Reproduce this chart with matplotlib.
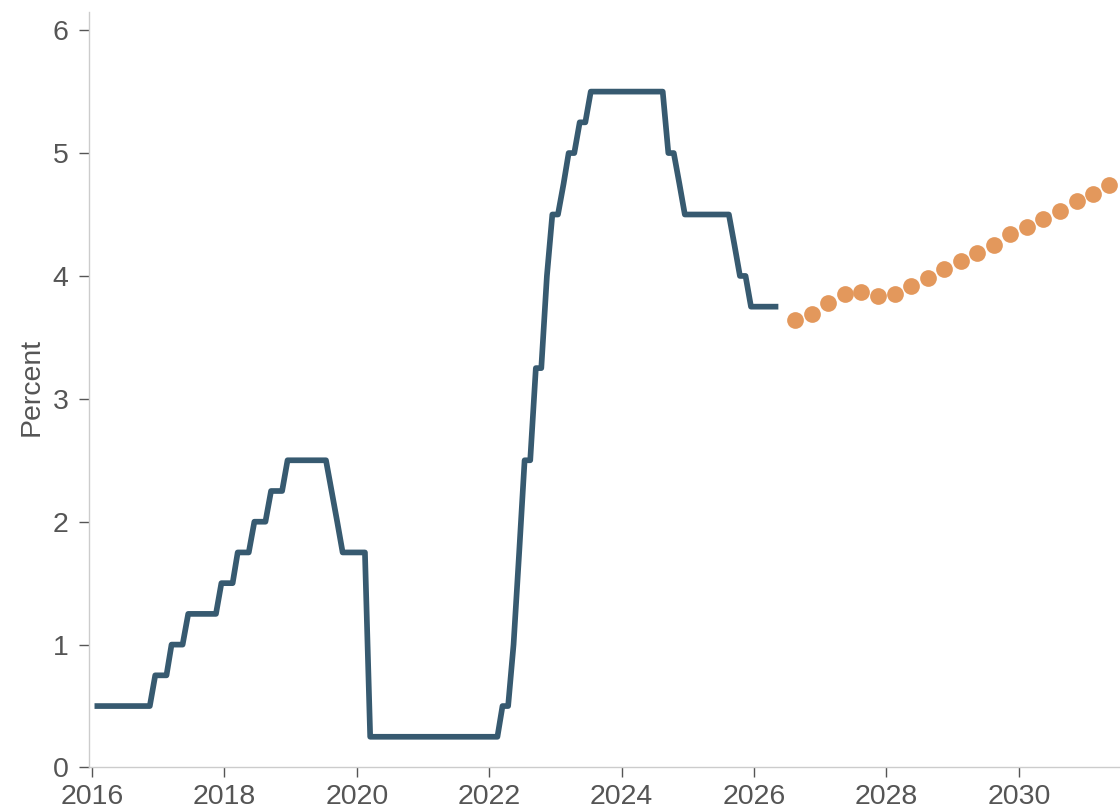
import matplotlib
matplotlib.use("Agg")
import matplotlib.pyplot as plt
import pandas as pd

plt.rcParams["font.family"] = ["Liberation Sans", "DejaVu Sans"]

# monthly fed funds target (upper bound), Jan 2016 - May 2026
fed_rate = [
    0.5, 0.5, 0.5, 0.5, 0.5, 0.5, 0.5, 0.5, 0.5, 0.5, 0.5, 0.75,            # 2016
    0.75, 0.75, 1.0, 1.0, 1.0, 1.25, 1.25, 1.25, 1.25, 1.25, 1.25, 1.5,     # 2017
    1.5, 1.5, 1.75, 1.75, 1.75, 2.0, 2.0, 2.0, 2.25, 2.25, 2.25, 2.5,       # 2018
    2.5, 2.5, 2.5, 2.5, 2.5, 2.5, 2.5, 2.25, 2.0, 1.75, 1.75, 1.75,         # 2019
    1.75, 1.75, 0.25, 0.25, 0.25, 0.25, 0.25, 0.25, 0.25, 0.25, 0.25, 0.25, # 2020
    0.25, 0.25, 0.25, 0.25, 0.25, 0.25, 0.25, 0.25, 0.25, 0.25, 0.25, 0.25, # 2021
    0.25, 0.25, 0.5, 0.5, 1.0, 1.75, 2.5, 2.5, 3.25, 3.25, 4.0, 4.5,        # 2022
    4.5, 4.75, 5.0, 5.0, 5.25, 5.25, 5.5, 5.5, 5.5, 5.5, 5.5, 5.5,          # 2023
    5.5, 5.5, 5.5, 5.5, 5.5, 5.5, 5.5, 5.5, 5.0, 5.0, 4.75, 4.5,            # 2024
    4.5, 4.5, 4.5, 4.5, 4.5, 4.5, 4.5, 4.5, 4.25, 4.0, 4.0, 3.75,           # 2025
    3.75, 3.75, 3.75, 3.75, 3.75,                                           # 2026
]

# quarterly projection, Q3 2026 - Q2 2031
proj_rate = [3.64, 3.69, 3.78, 3.85, 3.87, 3.84, 3.85, 3.92, 3.98, 4.06,
             4.12, 4.19, 4.25, 4.34, 4.40, 4.46, 4.53, 4.61, 4.67, 4.74]

rate_dates = pd.date_range("2016-01-01", periods=len(fed_rate), freq="MS") + pd.Timedelta(days=14)
proj_dates = pd.date_range("2026-08-01", periods=len(proj_rate), freq="3MS") + pd.Timedelta(days=14)

year_ticks = pd.to_datetime([f"{y}-01-01" for y in range(2016, 2031, 2)])
year_labels = [str(y) for y in range(2016, 2031, 2)]

fig = plt.figure(figsize=(11.2, 8.09), dpi=100)
ax = fig.add_axes([0.0797, 0.0513, 0.9203, 0.9342])

ax.plot(rate_dates, fed_rate, color="#375a70", lw=4.1,
        solid_joinstyle="round", solid_capstyle="butt", zorder=2)
ax.scatter(proj_dates, proj_rate, s=145, color="#e3985c", lw=0, zorder=3)

ax.set_xlim(pd.Timestamp("2015-12-17"), pd.Timestamp("2031-07-13"))
ax.set_ylim(0, 6.15)
ax.set_xticks(year_ticks)
ax.set_xticklabels(year_labels)
ax.set_yticks(range(0, 7))

for s in ["top", "right"]:
    ax.spines[s].set_visible(False)
for s in ["left", "bottom"]:
    ax.spines[s].set_color("#cccccc")
    ax.spines[s].set_linewidth(1)

ax.tick_params(axis="both", colors="#555555", labelsize=20.5, length=7, width=1)
ax.tick_params(axis="x", pad=5)
ax.tick_params(axis="y", pad=8)

fig.text(32 / 1120, 1 - 387 / 809, "Percent", rotation=90, ha="center", va="center",
         fontsize=20.5, color="#555555")

fig.savefig("out.png", dpi=100)
